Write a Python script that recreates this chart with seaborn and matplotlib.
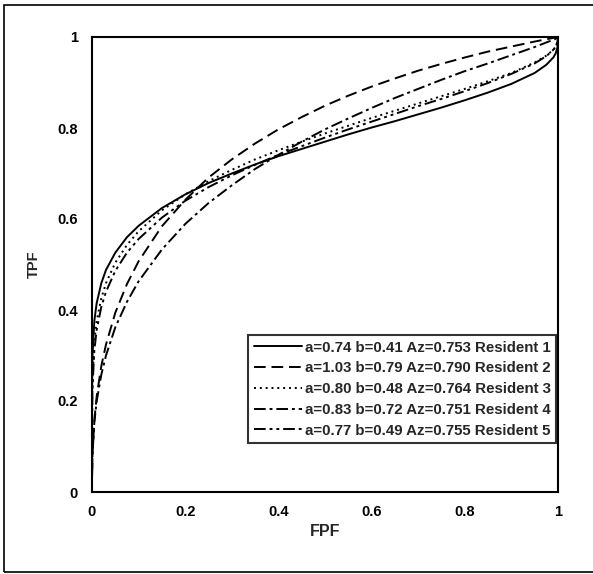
import pandas as pd
import matplotlib
matplotlib.use("Agg")
import matplotlib.pyplot as plt
import seaborn as sns
from matplotlib.patches import Rectangle

# values
fpf = [0.0, 0.0001, 0.001, 0.005, 0.01, 0.02, 0.03, 0.05, 0.075, 0.1, 0.15, 0.2, 0.25, 0.3,
       0.35, 0.4, 0.45, 0.5, 0.55, 0.6, 0.65, 0.7, 0.75, 0.8, 0.85, 0.9, 0.95, 0.975,
       0.99, 0.995, 0.999, 1.0]
tpf_r1 = [0.0, 0.216, 0.299, 0.376, 0.415, 0.459, 0.488, 0.526, 0.560, 0.585, 0.624, 0.654,
          0.679, 0.700, 0.720, 0.738, 0.754, 0.770, 0.786, 0.801, 0.815, 0.830, 0.845, 0.861,
          0.878, 0.897, 0.921, 0.939, 0.955, 0.964, 0.978, 1.0]
tpf_r2 = [0.0, 0.028, 0.079, 0.157, 0.210, 0.277, 0.324, 0.394, 0.457, 0.507, 0.584, 0.642,
          0.691, 0.731, 0.766, 0.797, 0.824, 0.849, 0.871, 0.891, 0.909, 0.926, 0.941, 0.955,
          0.968, 0.979, 0.990, 0.995, 0.998, 0.999, 1.0, 1.0]
tpf_r3 = [0.0, 0.162, 0.247, 0.331, 0.376, 0.426, 0.459, 0.504, 0.543, 0.573, 0.619, 0.654,
          0.683, 0.708, 0.731, 0.751, 0.770, 0.788, 0.805, 0.822, 0.838, 0.854, 0.870, 0.886,
          0.903, 0.921, 0.944, 0.959, 0.972, 0.979, 0.989, 1.0]
tpf_r4 = [0.0, 0.032, 0.082, 0.153, 0.199, 0.258, 0.300, 0.362, 0.418, 0.463, 0.533, 0.589,
          0.635, 0.674, 0.710, 0.741, 0.770, 0.797, 0.821, 0.844, 0.866, 0.886, 0.906, 0.925,
          0.942, 0.960, 0.978, 0.988, 0.994, 0.996, 0.999, 1.0]
tpf_r5 = [0.0, 0.146, 0.228, 0.311, 0.356, 0.407, 0.440, 0.486, 0.526, 0.556, 0.603, 0.640,
          0.670, 0.696, 0.719, 0.741, 0.760, 0.779, 0.797, 0.814, 0.831, 0.848, 0.864, 0.881,
          0.899, 0.919, 0.942, 0.958, 0.972, 0.979, 0.989, 1.0]

labels = ["a=0.74 b=0.41 Az=0.753 Resident 1",
          "a=1.03 b=0.79 Az=0.790 Resident 2",
          "a=0.80 b=0.48 Az=0.764 Resident 3",
          "a=0.83 b=0.72 Az=0.751 Resident 4",
          "a=0.77 b=0.49 Az=0.755 Resident 5"]
ticks = [0, 0.2, 0.4, 0.6, 0.8, 1]
tick_labels = ["0", "0.2", "0.4", "0.6", "0.8", "1"]

series = [tpf_r1, tpf_r2, tpf_r3, tpf_r4, tpf_r5]
rows = []
for lab, tpf in zip(labels, series):
    for x, y in zip(fpf, tpf):
        rows.append({"FPF": x, "TPF": y, "reader": lab})
df = pd.DataFrame(rows)

sns.set_style("white")
plt.rcParams["font.family"] = ["Liberation Sans", "DejaVu Sans"]
plt.rcParams["font.weight"] = "bold"

fig = plt.figure(figsize=(5.93, 5.74), dpi=100)
ax = fig.add_axes([92 / 593, 82 / 574, 466 / 593, 455 / 574])

dashes = ["", (6, 3), (1, 2), (6, 2, 1.5, 2), (6, 2, 1.5, 2, 1.5, 2)]
sns.lineplot(data=df, x="FPF", y="TPF", style="reader", dashes=dashes,
             color="black", linewidth=1.4, ax=ax, legend=True, sort=False)

ax.set_xlim(0, 1)
ax.set_ylim(0, 1)
ax.set_xticks(ticks)
ax.set_xticklabels(tick_labels)
ax.set_yticks(ticks)
ax.set_yticklabels(tick_labels)
ax.tick_params(direction="in", length=3, width=1, labelsize=10.5, pad=9, colors="black")
ax.tick_params(axis="y", pad=10)
for s in ax.spines.values():
    s.set_color("black")
    s.set_linewidth(1.5)
ax.set_xlabel("FPF", fontsize=11.5, fontweight="bold", labelpad=4)
ax.set_ylabel("TPF", fontsize=10.5, fontweight="bold", labelpad=12)

handles, _ = ax.get_legend_handles_labels()
leg = ax.legend(handles, labels, loc="lower right", bbox_to_anchor=(0.995, 0.108),
                fontsize=10.8, frameon=True, fancybox=False, borderpad=0.35,
                labelspacing=0.45, handlelength=3.2, handletextpad=0.2,
                borderaxespad=0)
leg.get_frame().set_edgecolor("black")
leg.get_frame().set_linewidth(1.5)

fig.patches.append(Rectangle((4 / 593, 2 / 574), 1.2, 567 / 574, transform=fig.transFigure,
                             fill=False, edgecolor="black", linewidth=1.2))

fig.savefig("out.png", dpi=100)
